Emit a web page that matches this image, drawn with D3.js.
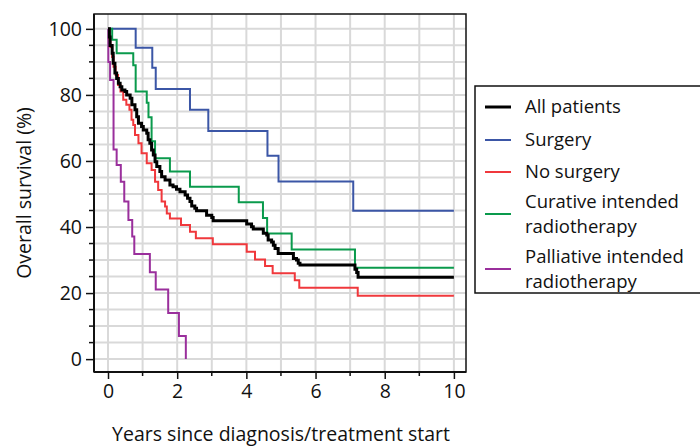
<!DOCTYPE html>
<html>
<head>
<meta charset="utf-8">
<script src="https://cdn.jsdelivr.net/npm/d3@7"></script>
<style>
  body { margin: 0; background: #fff; }
  text { font-family: "Open Sans", sans-serif; fill: #111; }
</style>
</head>
<body>
<script>
// datos (tiempo en años, supervivencia en %)
var allT = [0, 0.04, 0.06, 0.12, 0.15, 0.2, 0.25, 0.3, 0.35, 0.4, 0.49, 0.54, 0.64, 0.69, 0.78, 0.83, 0.88, 0.97, 1.02, 1.12, 1.16, 1.21, 1.26, 1.31, 1.36, 1.41, 1.5, 1.55, 1.65, 1.79, 1.88, 1.98, 2.08, 2.23, 2.3, 2.37, 2.42, 2.51, 2.56, 2.85, 3.0, 3.04, 4.01, 4.15, 4.2, 4.49, 4.59, 4.63, 4.73, 4.78, 4.83, 4.92, 5.36, 5.45, 5.5, 5.55, 7.14, 7.19, 7.23, 10];
var allS = [100, 97.5, 95, 92.6, 89.6, 86.6, 85, 83.5, 82.5, 81.5, 81, 80, 79, 77, 75.5, 73.4, 71.4, 70.4, 69.4, 68.4, 66.4, 65.4, 63.3, 61.8, 59.8, 58.3, 56.8, 55.2, 54.2, 52.7, 52.2, 51.4, 50.7, 49.7, 48.7, 47.7, 46.4, 45.7, 44.9, 43.6, 42.9, 41.9, 40.9, 40.1, 39.4, 38.1, 37.6, 36.1, 35.5, 34.5, 33.5, 32, 30.5, 30, 29, 28.5, 27.2, 26.2, 24.8, 24.8];

var surgT = [0, 0.8, 1.28, 1.38, 2.37, 2.9, 4.61, 4.93, 7.09, 10];
var surgS = [100, 94.3, 88.2, 81.8, 75.5, 69.1, 61.6, 53.8, 44.9, 44.9];

var noSurgT = [0, 0.04, 0.07, 0.12, 0.16, 0.22, 0.29, 0.36, 0.44, 0.53, 0.62, 0.68, 0.73, 0.78, 0.88, 0.97, 1.12, 1.26, 1.36, 1.45, 1.55, 1.65, 1.7, 1.79, 2.11, 2.37, 2.54, 3.03, 4.01, 4.25, 4.54, 4.76, 5.4, 5.53, 7.22, 10];
var noSurgS = [100, 97, 94.5, 91.5, 88.5, 86, 83, 81, 78.5, 77, 75.5, 72.5, 70.9, 67.9, 65.4, 62.3, 59.3, 57.3, 53.7, 51.2, 47.7, 46.2, 44.1, 42.6, 40.6, 38.6, 36.6, 34.8, 32.5, 30.2, 28.2, 26, 23.9, 21.6, 19.2, 19.2];

var curT = [0, 0.12, 0.25, 0.73, 0.8, 1.12, 1.17, 1.26, 1.36, 1.79, 2.37, 3.78, 4.48, 4.6, 5.31, 7.14, 10];
var curS = [100, 96.7, 92.6, 89, 81, 77.6, 73.2, 66, 60.8, 56.8, 52.2, 47.5, 42.7, 38, 33.2, 27.7, 27.7];

var palT = [0, 0.01, 0.06, 0.16, 0.25, 0.37, 0.47, 0.59, 0.7, 0.76, 1.21, 1.38, 1.74, 2.05, 2.25];
var palS = [100, 90, 84.5, 63.5, 58.8, 53.7, 47.7, 42.1, 37.1, 31.8, 26.3, 21.1, 14, 7, 0];

var nombres = ["All patients", "Surgery", "No surgery", "Curative intended\nradiotherapy", "Palliative intended\nradiotherapy"];
var colores = ["#000000", "#3b56a6", "#f0383c", "#0a9a4c", "#9a2f9c"];
var grosores = [3, 2, 2, 2, 2];

var series = [[allT, allS], [surgT, surgS], [noSurgT, noSurgS], [curT, curS], [palT, palS]];

var ticksX = [0, 2, 4, 6, 8, 10];
var ticksY = [0, 20, 40, 60, 80, 100];

var ancho = 700, alto = 446;
var izq = 94, der = 466, arriba = 14, abajo = 372;
var letra = 19.5;

var svg = d3.select("body").append("svg")
  .attr("width", ancho)
  .attr("height", alto);

var x = d3.scaleLinear().domain([-0.405, 10.35]).range([izq, der]);
var y = d3.scaleLinear().domain([-3.9, 104.5]).range([abajo, arriba]);

// rejilla
svg.append("g").selectAll("line")
  .data(d3.range(0, 11, 1))
  .enter().append("line")
  .attr("x1", d => x(d)).attr("x2", d => x(d))
  .attr("y1", arriba).attr("y2", abajo)
  .attr("stroke", "#d9d9d9").attr("stroke-width", 2);

svg.append("g").selectAll("line")
  .data(d3.range(0, 101, 5))
  .enter().append("line")
  .attr("x1", izq).attr("x2", der)
  .attr("y1", d => y(d)).attr("y2", d => y(d))
  .attr("stroke", "#d9d9d9").attr("stroke-width", 2);

// curvas
var linea = d3.line()
  .x(d => x(d[0]))
  .y(d => y(d[1]))
  .curve(d3.curveStepAfter);

// se dibujan en orden para que la negra quede encima
[4, 1, 2, 3, 0].forEach(function(i) {
  var t = series[i][0], s = series[i][1];
  var pts = t.map((v, k) => [v, s[k]]);
  svg.append("path")
    .datum(pts)
    .attr("d", linea)
    .attr("fill", "none")
    .attr("stroke", colores[i])
    .attr("stroke-width", grosores[i])
    .attr("stroke-linejoin", "miter")
    .attr("stroke-linecap", "butt");
});

// marco
svg.append("rect")
  .attr("x", izq).attr("y", arriba)
  .attr("width", der - izq).attr("height", abajo - arriba)
  .attr("fill", "none").attr("stroke", "#111").attr("stroke-width", 1.5);

// ejes
var ejeX = d3.axisBottom(x).tickValues(ticksX).tickSize(7).tickPadding(5).tickFormat(d3.format("d"));
var gx = svg.append("g").attr("transform", "translate(0," + abajo + ")").call(ejeX);
gx.select(".domain").remove();
gx.selectAll(".tick line").attr("stroke", "#111").attr("stroke-width", 1.5);
gx.selectAll("text").attr("font-size", letra).attr("fill", "#111");
svg.append("g").selectAll("line")
  .data([1, 3, 5, 7, 9]).enter().append("line")
  .attr("x1", d => x(d)).attr("x2", d => x(d))
  .attr("y1", abajo).attr("y2", abajo + 4)
  .attr("stroke", "#111").attr("stroke-width", 1.5);

var ejeY = d3.axisLeft(y).tickValues(ticksY).tickSize(8).tickPadding(4).tickFormat(d3.format("d"));
var gy = svg.append("g").attr("transform", "translate(" + izq + ",0)").call(ejeY);
gy.select(".domain").remove();
gy.selectAll(".tick line").attr("stroke", "#111").attr("stroke-width", 1.5);
gy.selectAll("text").attr("font-size", letra).attr("fill", "#111");
svg.append("g").selectAll("line")
  .data(d3.range(5, 100, 5).filter(d => d % 20 != 0)).enter().append("line")
  .attr("x1", izq - 5).attr("x2", izq)
  .attr("y1", d => y(d)).attr("y2", d => y(d))
  .attr("stroke", "#111").attr("stroke-width", 1.5);
// linea izquierda algo mas gruesa
svg.append("line")
  .attr("x1", izq).attr("x2", izq).attr("y1", arriba).attr("y2", abajo)
  .attr("stroke", "#111").attr("stroke-width", 2);
svg.append("line")
  .attr("x1", izq).attr("x2", der).attr("y1", abajo).attr("y2", abajo)
  .attr("stroke", "#111").attr("stroke-width", 2);

// titulos
svg.append("text")
  .attr("x", 281).attr("y", 441)
  .attr("text-anchor", "middle").attr("font-size", letra)
  .text("Years since diagnosis/treatment start");

svg.append("text")
  .attr("transform", "translate(31,193) rotate(-90)")
  .attr("text-anchor", "middle").attr("font-size", letra)
  .text("Overall survival (%)");

// leyenda
var ley = svg.append("g");
ley.append("rect")
  .attr("x", 475).attr("y", 86).attr("width", 240).attr("height", 207)
  .attr("fill", "#fff").attr("stroke", "#111").attr("stroke-width", 1.5);

var filasY = [107, 140, 172, 214, 269];
var salto = 24.5;
nombres.forEach(function(n, i) {
  var partes = n.split("\n");
  ley.append("line")
    .attr("x1", 485).attr("x2", 511)
    .attr("y1", filasY[i]).attr("y2", filasY[i])
    .attr("stroke", colores[i]).attr("stroke-width", grosores[i]);
  var txt = ley.append("text")
    .attr("x", 525).attr("font-size", 18.5)
    .attr("y", filasY[i] - (partes.length - 1) * salto / 2);
  partes.forEach(function(p, k) {
    txt.append("tspan").attr("x", 525).attr("dy", k == 0 ? "0.35em" : salto).text(p);
  });
});
</script>
</body>
</html>
